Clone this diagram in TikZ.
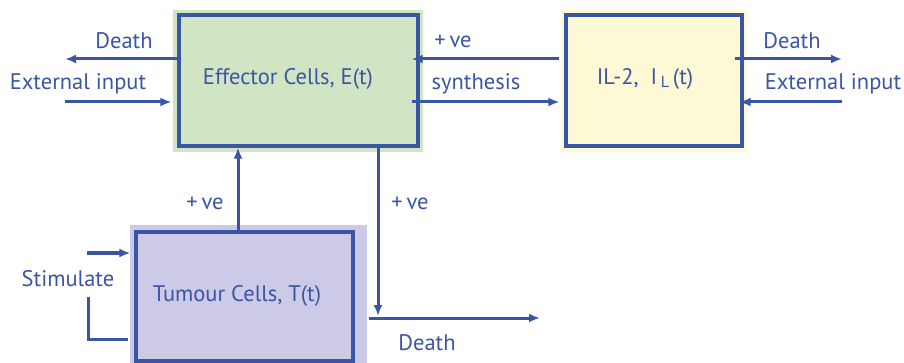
\documentclass[tikz,border=0pt]{standalone}
\usepackage{fontspec}
\setmainfont{PT Sans}
\usetikzlibrary{arrows.meta}
\definecolor{cellblue}{HTML}{3B55A5}
\definecolor{effgreen}{HTML}{D1E5C4}
\definecolor{ilyellow}{HTML}{FEF9D5}
\definecolor{tumpurple}{HTML}{CCCAE6}

\tikzset{
  cellbox/.style={draw=cellblue,line width=3.2pt,minimum width=#1,minimum height=131pt,inner sep=0pt},
  flow/.style={->,>={Latex[length=11pt,width=9pt]},draw=cellblue,line width=3pt},
  lbl/.style={text=cellblue,inner sep=0pt}
}

\begin{document}
\begin{tikzpicture}[x=1pt,y=-1pt,font=\fontsize{22.5}{26}\selectfont]
  \useasboundingbox (0,0) rectangle (904,363);

  % light panels behind the boxes
  \fill[effgreen] (173,10) rectangle (423,152);
  \fill[ilyellow] (561,10) rectangle (747,152);
  \fill[tumpurple] (130,225) rectangle (367,363);

  \node[cellbox=239pt,fill=effgreen] (effector) at (298.5,80.5) {};
  \node[cellbox=176pt,fill=ilyellow] (il2) at (654,80.5) {};
  \node[cellbox=217pt,minimum height=129pt,fill=tumpurple] (tumour) at (244.5,296.5) {};

  \node[lbl] (efftext) at (288,79) {Effector Cells, E(t)};
  \node[lbl] (iltext) at (645,79) {IL-2,\ \ I\,{\fontsize{16}{18}\selectfont\raisebox{-3pt}{L}}\,(t)};
  \node[lbl] (tumtext) at (237,296) {Tumour Cells, T(t)};

  \coordinate (edeath) at (65,59);
  \coordinate (einput) at (65,102);
  \coordinate (ideath) at (842,59);
  \coordinate (iinput) at (842,102);
  \coordinate (tdeath) at (540,318);
  \coordinate (stim) at (87,253);
  \coordinate (loop) at (88,297);

  % effector cells in and out
  \draw[flow] (effector.west |- edeath) -- (edeath);
  \draw[flow,shorten >=6pt] (einput) -- (einput -| effector.west);

  % il-2 in and out
  \draw[flow,shorten <=-9pt] (il2.east |- ideath) -- (ideath);
  \draw[flow,shorten >=-4pt] (iinput) -- (iinput -| il2.east);

  % between effector and il-2
  \draw[flow,shorten <=5pt,shorten >=-8pt] (il2.west |- edeath) -- (effector.east |- edeath);
  \draw[flow,shorten <=-8pt,shorten >=5pt] (effector.east |- einput) -- (il2.west |- einput);

  % tumour and effector
  \draw[flow] ([xshift=-6.5pt]tumour.north) -- ([xshift=-6.5pt]tumour.north |- effector.south);
  \draw[flow,shorten >=2pt] ([xshift=79.5pt]effector.south) -- ([xshift=79.5pt]effector.south |- tdeath);
  \draw[flow] ([xshift=14pt]tumour.east |- tdeath) -- (tdeath);

  % stimulate
  \draw[flow,shorten >=4pt] (stim) -- (stim -| tumour.west);
  \draw[draw=cellblue,line width=3pt,shorten >=6pt] (loop) |- ([yshift=-42.5pt]tumour.west);

  % labels
  \node[lbl] (l1) at (124,41) {Death};
  \node[lbl] (l2) at (78,84) {External input};
  \node[lbl] (l3) at (453,41) {+\,ve};
  \node[lbl] (l4) at (476,84) {synthesis};
  \node[lbl] (l5) at (792,41) {Death};
  \node[lbl] (l6) at (833,84) {External input};
  \node[lbl] (l7) at (205,203) {+\,ve};
  \node[lbl] (l8) at (410,203) {+\,ve};
  \node[lbl] (l9) at (68,279) {Stimulate};
  \node[lbl] (l10) at (427,343) {Death};
\end{tikzpicture}
\end{document}
